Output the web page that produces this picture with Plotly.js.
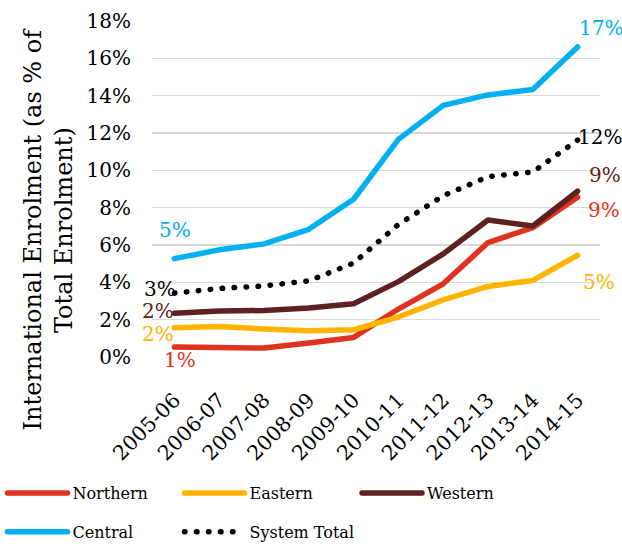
<!DOCTYPE html>
<html>
<head>
<meta charset="utf-8">
<script src="https://cdn.plot.ly/plotly-3.0.1.min.js"></script>
<style>
  html, body { margin: 0; padding: 0; background: #fff; }
  #chart { width: 622px; height: 546px; }
  path.js-line { stroke-linecap: round; stroke-linejoin: round; }
</style>
</head>
<body>
<div id="chart"></div>
<script>
// ---- data (percent of total enrolment) ----
const categories = ['2005-06', '2006-07', '2007-08', '2008-09', '2009-10', '2010-11', '2011-12', '2012-13', '2013-14', '2014-15'];
const northern = [0.53, 0.53, 0.48, 0.75, 1.05, 2.57, 3.92, 6.13, 6.93, 8.56];
const eastern  = [1.57, 1.64, 1.50, 1.41, 1.46, 2.14, 3.06, 3.78, 4.10, 5.45];
const western  = [2.35, 2.46, 2.49, 2.62, 2.85, 4.04, 5.52, 7.34, 7.02, 8.88];
const central  = [5.27, 5.74, 6.06, 6.84, 8.45, 11.66, 13.48, 14.04, 14.33, 16.61];
const systemTotal = [3.42, 3.67, 3.81, 4.08, 5.03, 7.10, 8.64, 9.66, 9.91, 11.62];
const seriesNames = ['Northern', 'Eastern', 'Western', 'Central', 'System Total'];
const yTickVals = [0, 2, 4, 6, 8, 10, 12, 14, 16, 18];
const yTitleText = 'International Enrolment (as % of<br>Total Enrolment)';

// ---- styling ----
const FONT = 'DejaVu Serif, Georgia, serif';
const colors = {
  'Northern': '#E1321F',
  'Eastern': '#FFB400',
  'Western': '#5E2121',
  'Central': '#00B0F0',
  'System Total': '#000000'
};
const seriesData = {
  'Northern': northern,
  'Eastern': eastern,
  'Western': western,
  'Central': central,
  'System Total': systemTotal
};
// label offsets in pixels [dx, dy] (start, end)
const labelOffsets = {
  'Northern':     { start: [6, 13],  end: [26, 13] },
  'Eastern':      { start: [-16, 6], end: [21, 27] },
  'Western':      { start: [-16, -2], end: [27, -16] },
  'Central':      { start: [1, -29], end: [23, -19] },
  'System Total': { start: [-14, -4], end: [22, -3] }
};
const legendOf = {
  'Northern': 'legend', 'Eastern': 'legend', 'Western': 'legend3',
  'Central': 'legend2', 'System Total': 'legend2'
};

const traces = seriesNames.map(name => ({
  type: 'scatter',
  mode: 'lines',
  name: name,
  x: categories,
  y: seriesData[name],
  legend: legendOf[name],
  line: name === 'System Total'
    ? { color: colors[name], width: 5.5, dash: '0.5px,11.5px' }
    : { color: colors[name], width: 5.5 },
  hoverinfo: 'x+y+name'
}));

const annotations = [];
seriesNames.forEach(name => {
  const vals = seriesData[name];
  const n = vals.length;
  [['start', 0], ['end', n - 1]].forEach(([k, i]) => {
    const off = labelOffsets[name][k];
    annotations.push({
      x: categories[i], y: vals[i], xref: 'x', yref: 'y',
      text: Math.round(vals[i]) + '%',
      showarrow: false,
      xshift: off[0], yshift: -off[1],
      font: { family: FONT, size: 20, color: colors[name] }
    });
  });
});
annotations.push({
  xref: 'paper', yref: 'paper', x: -0.232, y: 0.38,
  xanchor: 'center', yanchor: 'middle',
  text: yTitleText, textangle: -90, showarrow: false,
  font: { family: FONT, size: 24, color: '#000' }
});

const legendBase = {
  orientation: 'h', xref: 'container', yref: 'container',
  xanchor: 'left', yanchor: 'middle',
  itemwidth: 60,
  entrywidth: 102, entrywidthmode: 'pixels',
  font: { family: FONT, size: 16, color: '#000' },
  bgcolor: 'rgba(0,0,0,0)', borderwidth: 0
};

const layout = {
  width: 622, height: 546,
  margin: { l: 152, r: 22, t: 21, b: 189, pad: 0 },
  paper_bgcolor: '#fff', plot_bgcolor: '#fff',
  font: { family: FONT, size: 19, color: '#000' },
  showlegend: true,
  xaxis: {
    type: 'category',
    range: [-0.5, categories.length - 0.5],
    showgrid: false, zeroline: false, showline: false,
    ticks: '', tickangle: -45,
    ticklabelstandoff: 26,
    automargin: false,
    tickfont: { family: FONT, size: 20.5, color: '#000' }
  },
  yaxis: {
    range: [0, 18],
    tickvals: yTickVals,
    ticktext: yTickVals.map(v => v + '%'),
    showgrid: true, gridcolor: '#D9D9D9', gridwidth: 1.6,
    zeroline: false, showline: false, ticks: '',
    ticklabelstandoff: 20,
    automargin: false,
    tickfont: { family: FONT, size: 20, color: '#000' }
  },
  legend: Object.assign({}, legendBase, { x: 0.004, y: 0.097 }),
  legend3: Object.assign({}, legendBase, { x: 0.574, y: 0.097 }),
  legend2: Object.assign({}, legendBase, { x: 0.004, y: 0.026 }),
  annotations: annotations
};

Plotly.newPlot('chart', traces, layout, { displayModeBar: false, staticPlot: true });
</script>
</body>
</html>
